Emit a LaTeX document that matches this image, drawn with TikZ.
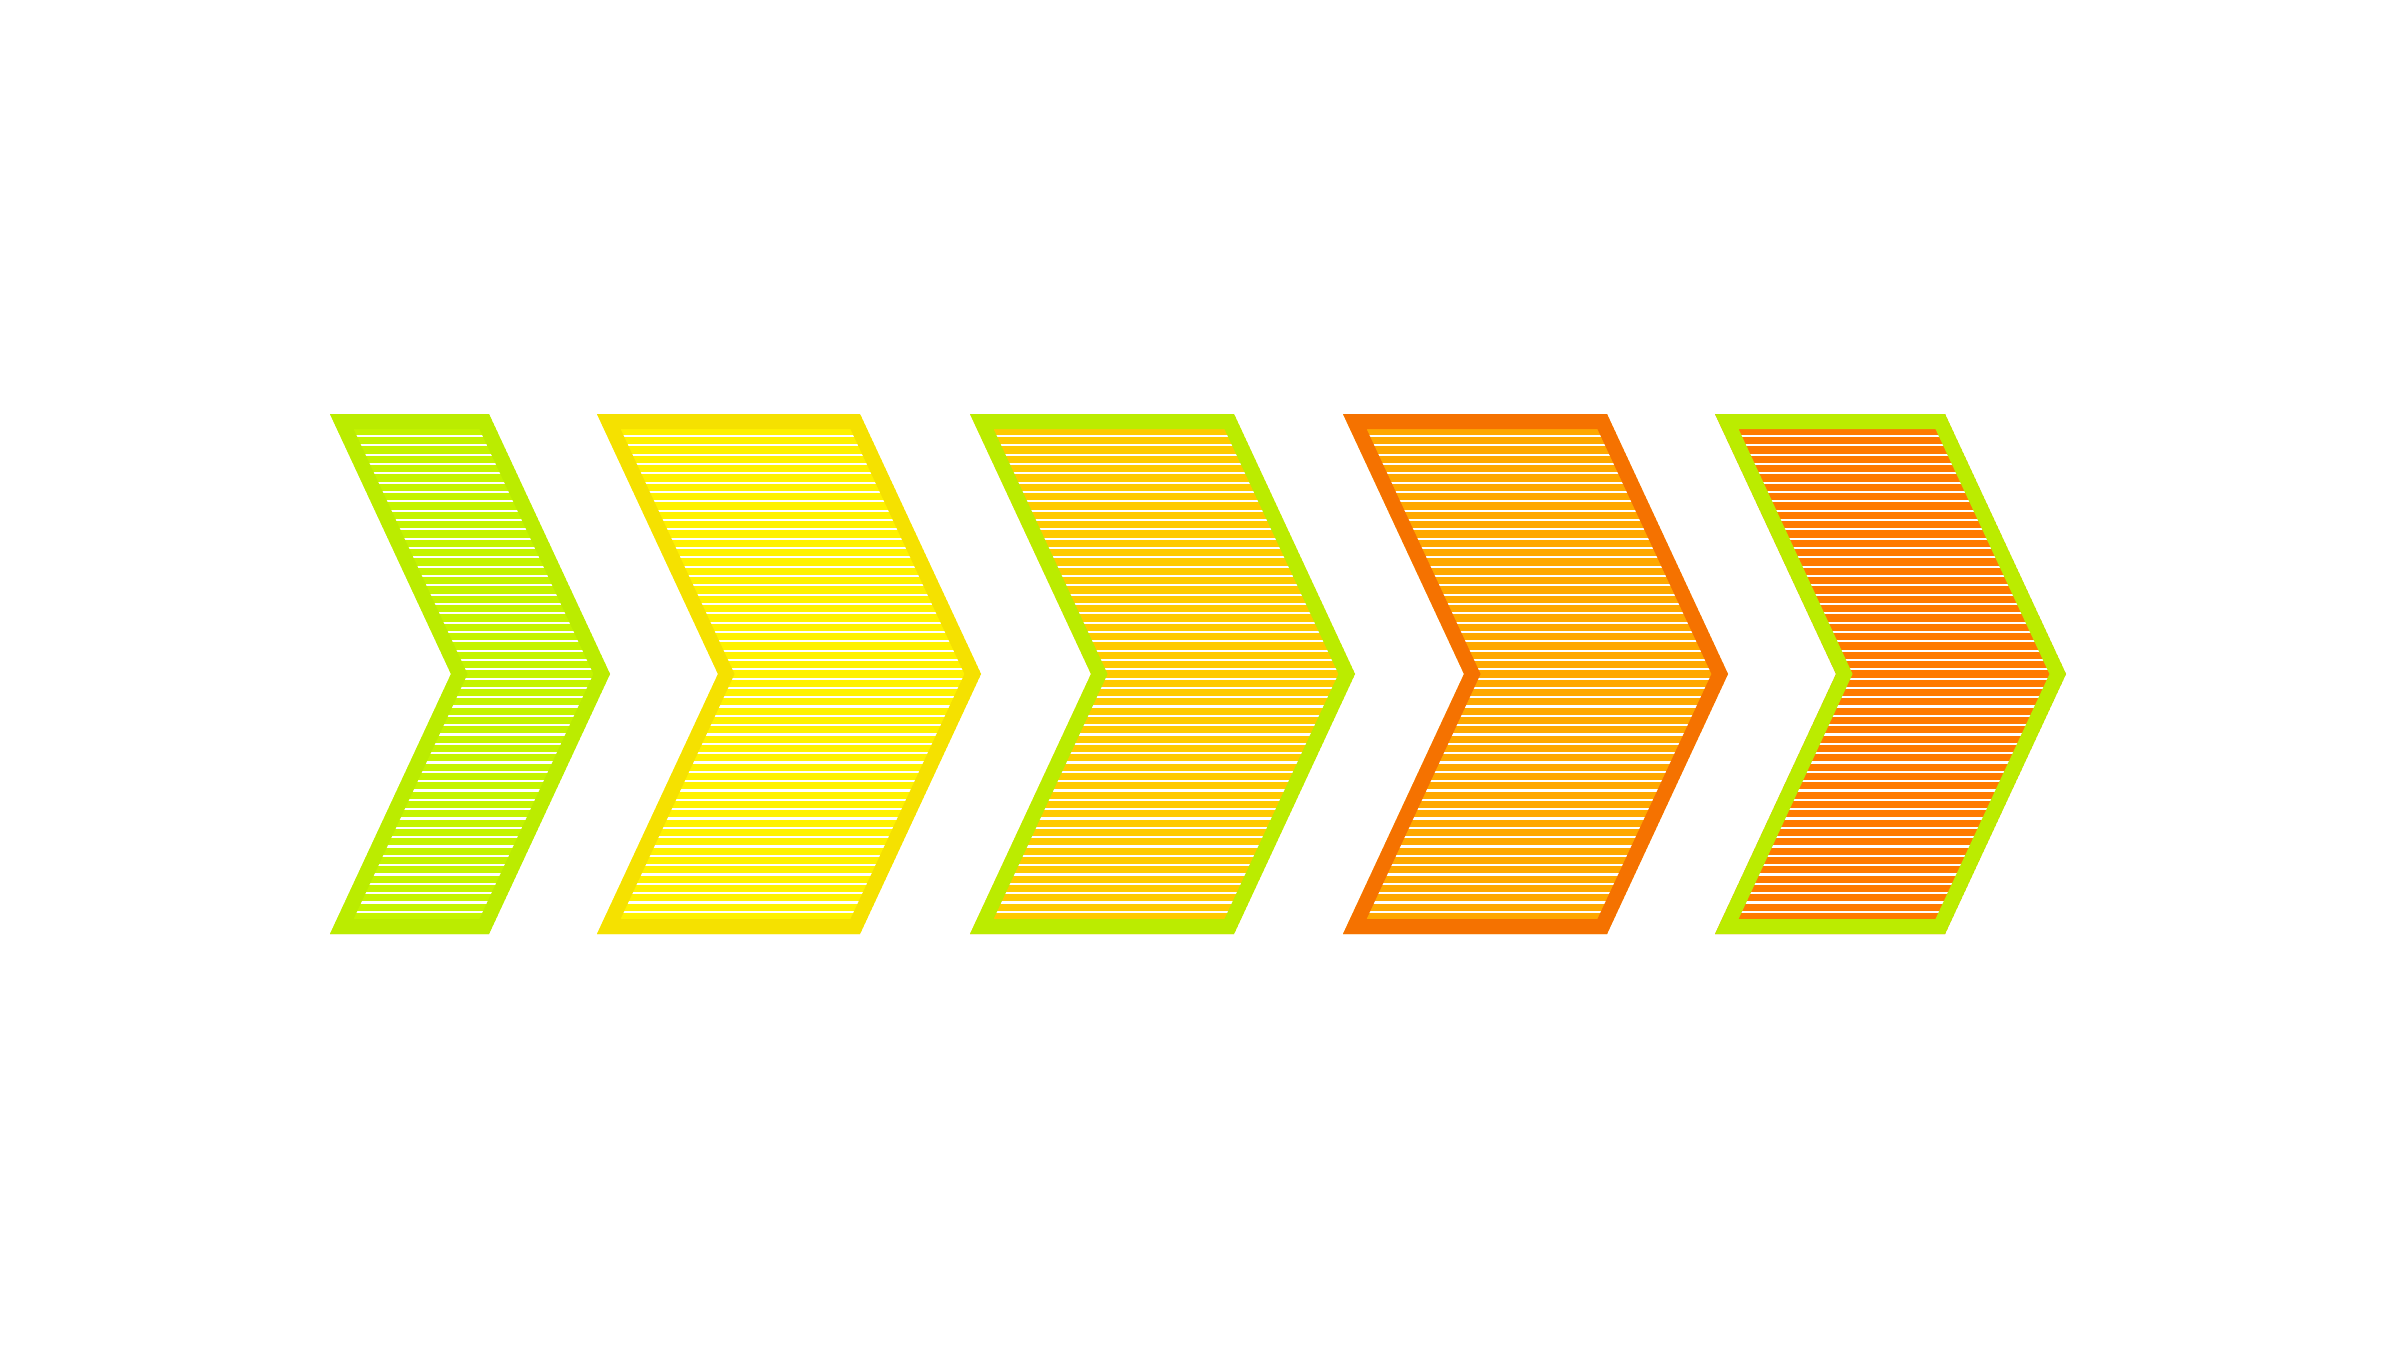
\documentclass[tikz,border=0pt]{standalone}
\usepackage{xcolor}
\definecolor{limeF}{HTML}{C4F400}
\definecolor{limeB}{HTML}{BBEC00}
\definecolor{yelF}{HTML}{FFF200}
\definecolor{yelB}{HTML}{F5E100}
\definecolor{goldF}{HTML}{FFCA00}
\definecolor{amberF}{HTML}{FFA800}
\definecolor{orangeB}{HTML}{F57200}
\definecolor{orangeF}{HTML}{FF7A00}
% one chevron: left x, width of top edge
\newcommand{\ChevronPath}[2]{(#1,9.36) -- ++(#2,0) -- ++(1.21,-2.6) -- ++(-1.21,-2.6) -- ++(-#2,0) -- ++(1.21,2.6) -- cycle}

\begin{document}
\begin{tikzpicture}[rim/.style={draw=#1, line width=0.3cm},
  stripe/.style={draw=white, line width=0.022cm}]
%\draw [help lines] (0,0) grid (24,13.5);
\fill[white] (0,0) rectangle (24,13.5);
\useasboundingbox (0,0) rectangle (24,13.5);

\foreach \x/\w/\fc/\bc in {3.30/1.59/limeF/limeB, 5.97/2.63/yelF/yelB,
    9.70/2.64/goldF/limeB, 13.43/2.64/amberF/orangeB, 17.15/2.30/orangeF/limeB}{
  \begin{scope}
    \clip \ChevronPath{\x}{\w};
    \fill[\fc] \ChevronPath{\x}{\w};
    % Stripes
    \foreach \k in {0,...,51}
      \draw[stripe] (\x,{9.14-0.0933*\k}) -- ++(\w+1.3,0);
    \draw[rim=\bc] \ChevronPath{\x}{\w};
  \end{scope}
}

\end{tikzpicture}
\end{document}
